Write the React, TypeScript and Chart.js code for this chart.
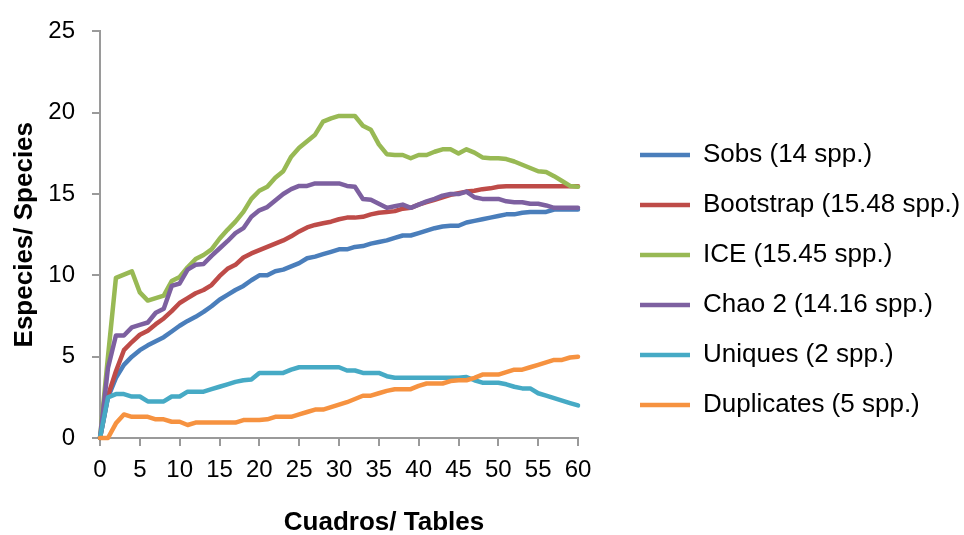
import React, { useEffect, useRef } from 'react';
import { Chart, registerables } from 'chart.js';

Chart.register(...registerables);

// ---- data ----
const tables = [
  0, 1, 2, 3, 4, 5, 6, 7, 8, 9, 10, 11, 12, 13, 14, 15, 16, 17, 18, 19, 20,
  21, 22, 23, 24, 25, 26, 27, 28, 29, 30, 31, 32, 33, 34, 35, 36, 37, 38, 39, 40,
  41, 42, 43, 44, 45, 46, 47, 48, 49, 50, 51, 52, 53, 54, 55, 56, 57, 58, 59, 60,
];

const sobs = [
  0, 2.5, 3.7, 4.5, 5.0, 5.4, 5.7, 5.95, 6.2, 6.55, 6.9,
  7.2, 7.45, 7.75, 8.1, 8.5, 8.8, 9.1, 9.35, 9.7, 10.0,
  10.0, 10.25, 10.35, 10.55, 10.75, 11.05, 11.15, 11.3, 11.45, 11.6,
  11.6, 11.75, 11.8, 11.95, 12.05, 12.15, 12.3, 12.45, 12.45, 12.6,
  12.75, 12.9, 13.0, 13.05, 13.05, 13.25, 13.35, 13.45, 13.55, 13.65,
  13.75, 13.75, 13.85, 13.9, 13.9, 13.9, 14.05, 14.05, 14.05, 14.05,
];

const bootstrap = [
  0, 2.6, 4.1, 5.4, 5.9, 6.35, 6.6, 7.0, 7.35, 7.8, 8.3,
  8.6, 8.9, 9.1, 9.4, 9.95, 10.4, 10.65, 11.1, 11.35, 11.55,
  11.75, 11.95, 12.15, 12.4, 12.7, 12.95, 13.1, 13.2, 13.3, 13.45,
  13.55, 13.55, 13.6, 13.75, 13.85, 13.9, 13.95, 14.1, 14.15, 14.35,
  14.5, 14.65, 14.8, 14.95, 15.05, 15.15, 15.2, 15.3, 15.35, 15.45,
  15.48, 15.48, 15.48, 15.48, 15.48, 15.48, 15.48, 15.48, 15.48, 15.48,
];

const ice = [
  0, 5.0, 9.85, 10.05, 10.25, 8.95, 8.45, 8.6, 8.75, 9.65, 9.9,
  10.5, 11.0, 11.25, 11.6, 12.25, 12.8, 13.3, 13.9, 14.7, 15.2,
  15.45, 16.0, 16.4, 17.3, 17.85, 18.25, 18.65, 19.45, 19.65, 19.8,
  19.8, 19.8, 19.2, 18.95, 18.05, 17.45, 17.4, 17.4, 17.2, 17.4,
  17.4, 17.6, 17.75, 17.75, 17.5, 17.75, 17.55, 17.25, 17.2, 17.2,
  17.15, 17.0, 16.8, 16.6, 16.4, 16.35, 16.1, 15.8, 15.5, 15.45,
];

const chao2 = [
  0, 4.3, 6.3, 6.3, 6.8, 6.95, 7.1, 7.7, 7.95, 9.35, 9.5,
  10.35, 10.65, 10.7, 11.2, 11.65, 12.1, 12.6, 12.9, 13.6, 14.0,
  14.2, 14.6, 15.0, 15.3, 15.5, 15.5, 15.65, 15.65, 15.65, 15.65,
  15.5, 15.45, 14.7, 14.65, 14.4, 14.15, 14.25, 14.35, 14.15, 14.35,
  14.55, 14.7, 14.9, 15.0, 15.0, 15.15, 14.8, 14.7, 14.7, 14.7,
  14.55, 14.5, 14.5, 14.4, 14.4, 14.3, 14.15, 14.15, 14.15, 14.16,
];

const uniques = [
  0, 2.5, 2.7, 2.7, 2.55, 2.55, 2.25, 2.25, 2.25, 2.55, 2.55,
  2.85, 2.85, 2.85, 3.0, 3.15, 3.3, 3.45, 3.55, 3.6, 4.0,
  4.0, 4.0, 4.0, 4.2, 4.35, 4.35, 4.35, 4.35, 4.35, 4.35,
  4.15, 4.15, 4.0, 4.0, 4.0, 3.8, 3.7, 3.7, 3.7, 3.7,
  3.7, 3.7, 3.7, 3.7, 3.7, 3.75, 3.55, 3.4, 3.4, 3.4,
  3.3, 3.15, 3.05, 3.05, 2.75, 2.6, 2.45, 2.3, 2.15, 2.0,
];

const duplicates = [
  0, 0, 0.9, 1.45, 1.3, 1.3, 1.3, 1.15, 1.15, 1.0, 1.0,
  0.8, 0.95, 0.95, 0.95, 0.95, 0.95, 0.95, 1.1, 1.1, 1.1,
  1.15, 1.3, 1.3, 1.3, 1.45, 1.6, 1.75, 1.75, 1.9, 2.05,
  2.2, 2.4, 2.6, 2.6, 2.75, 2.9, 3.0, 3.0, 3.0, 3.2,
  3.35, 3.35, 3.35, 3.5, 3.55, 3.55, 3.7, 3.9, 3.9, 3.9,
  4.05, 4.2, 4.2, 4.35, 4.5, 4.65, 4.8, 4.8, 4.95, 5.0,
];

const seriesLabels = [
  'Sobs (14 spp.)',
  'Bootstrap (15.48 spp.)',
  'ICE (15.45 spp.)',
  'Chao 2 (14.16 spp.)',
  'Uniques (2 spp.)',
  'Duplicates (5 spp.)',
];
const seriesValues = [sobs, bootstrap, ice, chao2, uniques, duplicates];
const seriesColors = ['#4A7EBB', '#BE4B48', '#98B954', '#7D60A0', '#46AAC5', '#F69240'];

const xTickValues = [0, 5, 10, 15, 20, 25, 30, 35, 40, 45, 50, 55, 60];
const yTickValues = [0, 5, 10, 15, 20, 25];

const xTitle = 'Cuadros/ Tables';
const yTitle = 'Especies/ Species';

const FONT = '"Liberation Sans", Arial, Helvetica, sans-serif';
const AXIS_GRAY = '#9a9a9a';

// Legend keeps a fixed width (Chart.js otherwise caps side legends at a fraction of the width)
const fixedLegendWidth = {
  id: 'fixedLegendWidth',
  beforeLayout(chart: any, _args: any, opts: any) {
    const legend = chart.legend;
    if (!legend || legend._fixedWidthPatched) return;
    const originalFit = legend.fit.bind(legend);
    legend.fit = function () {
      originalFit();
      this.width = opts.width;
    };
    legend._fixedWidthPatched = true;
  },
};

// X axis title, centred like the original (under the whole plot + legend block)
const xAxisTitle = {
  id: 'xAxisTitle',
  afterDraw(chart: any, _args: any, opts: any) {
    const { ctx } = chart;
    ctx.save();
    ctx.font = `bold ${opts.size}px ${FONT}`;
    ctx.fillStyle = '#000';
    ctx.textAlign = 'center';
    ctx.textBaseline = 'middle';
    ctx.fillText(opts.text, opts.x, opts.y);
    ctx.restore();
  },
};

export default function App() {
  const canvasRef = useRef<HTMLCanvasElement | null>(null);

  useEffect(() => {
    if (!canvasRef.current) return;
    const datasets = seriesValues.map((vals, i) => ({
      label: seriesLabels[i],
      data: vals.map((v, j) => ({ x: tables[j], y: v })),
      borderColor: seriesColors[i],
      backgroundColor: seriesColors[i],
      borderWidth: 4.5,
      pointRadius: 0,
      pointHoverRadius: 0,
      fill: false,
      tension: 0,
      borderJoinStyle: 'round' as const,
      borderCapStyle: 'round' as const,
      clip: false as const,
      order: seriesValues.length - i,
    }));

    const chart = new Chart(canvasRef.current, {
      type: 'line',
      data: { datasets },
      plugins: [fixedLegendWidth, xAxisTitle],
      options: {
        animation: false,
        responsive: false,
        events: [],
        layout: { padding: { top: 25, right: 3, bottom: 0, left: 0 } },
        scales: {
          x: {
            type: 'linear',
            min: 0,
            max: 60,
            afterBuildTicks: (scale: any) => {
              scale.ticks = xTickValues.map((v) => ({ value: v }));
            },
            ticks: {
              font: { family: FONT, size: 24 },
              color: '#000',
              padding: 10,
              maxRotation: 0,
              autoSkip: false,
            },
            grid: {
              drawOnChartArea: false,
              drawTicks: true,
              tickLength: 8,
              color: AXIS_GRAY,
              lineWidth: 2,
            },
            border: { display: true, color: AXIS_GRAY, width: 2 },
            afterFit: (scale: any) => {
              scale.height = 97;
            },
          },
          y: {
            type: 'linear',
            min: 0,
            max: 25,
            afterBuildTicks: (scale: any) => {
              scale.ticks = yTickValues.map((v) => ({ value: v }));
            },
            ticks: {
              font: { family: FONT, size: 24 },
              color: '#000',
              padding: 17,
              autoSkip: false,
            },
            grid: {
              drawOnChartArea: false,
              drawTicks: true,
              tickLength: 8,
              color: AXIS_GRAY,
              lineWidth: 2,
            },
            border: { display: true, color: AXIS_GRAY, width: 2 },
            title: {
              display: true,
              text: yTitle,
              color: '#000',
              font: { family: FONT, size: 26, weight: 'bold' },
              padding: { top: 9, bottom: 0 },
            },
            afterFit: (scale: any) => {
              scale.width = 100;
            },
          },
          legendGap: {
            type: 'linear',
            position: 'right',
            display: true,
            grid: { display: false },
            border: { display: false },
            ticks: { display: false },
            afterFit: (scale: any) => {
              scale.width = 38;
            },
          },
        },
        plugins: {
          legend: {
            display: true,
            position: 'right',
            align: 'center',
            labels: {
              usePointStyle: true,
              pointStyle: 'line',
              pointStyleWidth: 50,
              padding: 24,
              color: '#000',
              font: { family: FONT, size: 26 },
              sort: (a: any, b: any) => a.datasetIndex - b.datasetIndex,
            },
          },
          tooltip: { enabled: false },
          fixedLegendWidth: { width: 345 },
          xAxisTitle: { text: xTitle, x: 384, y: 523, size: 26 },
        } as any,
      },
    });

    return () => {
      chart.destroy();
    };
  }, []);

  return (
    <div
      style={{
        position: 'fixed',
        left: 0,
        top: 0,
        width: 964,
        height: 535,
        background: '#ffffff',
      }}
    >
      <canvas ref={canvasRef} width={964} height={535} style={{ display: 'block' }} />
    </div>
  );
}
